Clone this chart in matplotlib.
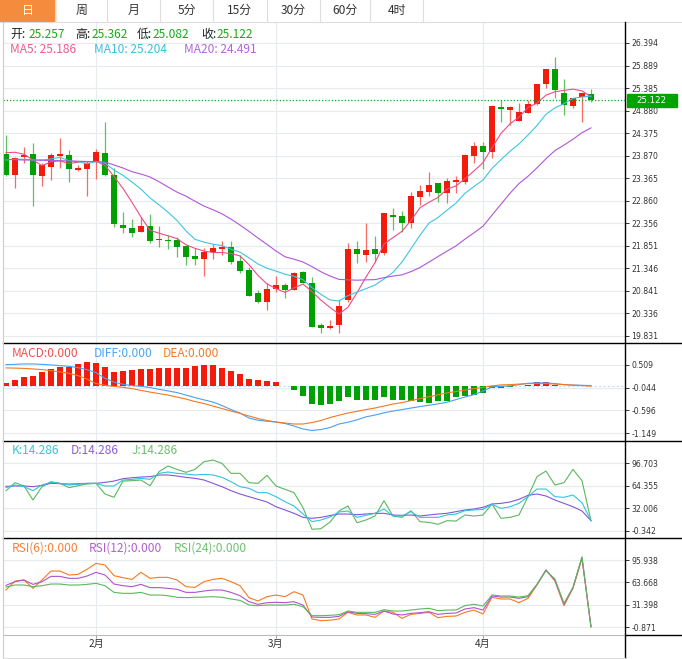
"""K-line chart with MA, MACD, KDJ and RSI panels."""

import matplotlib
matplotlib.use("Agg")
import matplotlib.pyplot as plt
import numpy as np
import pandas as pd
from matplotlib.lines import Line2D
from matplotlib.patches import Rectangle

plt.rcParams["font.family"] = ["Noto Sans CJK SC", "DejaVu Sans"]

W, H = 682, 659

# ---- values (one per trading day) ----
opens = [23.907, 23.437, 23.833, 23.907, 23.421, 23.623, 23.869, 23.885, 23.542, 23.571,
         23.728, 23.937, 23.430, 22.317, 22.250, 22.167, 22.301, 21.988, 21.988, 21.981,
         21.853, 21.623, 21.562, 21.712, 21.786, 21.817, 21.511, 21.309, 20.787, 20.599,
         20.883, 20.966, 20.861, 21.257, 21.018, 20.070, 20.017, 20.077, 20.637, 21.779,
         21.645, 21.779, 21.697, 22.541, 22.519, 22.355, 22.951, 23.063, 23.251, 23.041,
         23.287, 23.287, 23.869, 24.087, 23.945, 24.967, 24.893, 24.653, 24.833, 25.027,
         25.469, 25.811, 25.267, 24.989, 25.191, 25.257]
highs = [24.333, 23.830, 24.057, 24.147, 23.713, 23.923, 24.273, 23.997, 23.654, 23.751,
         24.019, 24.624, 23.587, 22.601, 22.451, 22.503, 22.563, 22.295, 22.093, 22.055,
         21.869, 21.795, 21.809, 21.885, 21.965, 21.965, 21.645, 21.369, 20.861, 21.011,
         21.175, 21.011, 21.271, 21.287, 21.145, 20.129, 20.189, 20.637, 21.907, 21.965,
         22.369, 22.071, 22.593, 22.698, 22.631, 23.063, 23.213, 23.497, 23.265, 23.363,
         23.421, 23.901, 24.169, 24.169, 24.998, 25.117, 24.983, 25.057, 25.117, 25.475,
         25.811, 26.073, 25.581, 25.169, 25.281, 25.362]
lows = [23.415, 23.153, 23.699, 22.743, 23.197, 23.325, 23.587, 23.287, 23.533, 22.967,
        23.354, 23.415, 22.279, 22.145, 22.041, 22.167, 21.907, 21.831, 21.786, 21.607,
        21.421, 21.428, 21.175, 21.549, 21.638, 21.443, 21.249, 20.733, 20.563, 20.413,
        20.823, 20.675, 20.861, 21.011, 20.025, 19.905, 19.981, 19.905, 20.585, 21.473,
        21.495, 21.495, 21.645, 22.205, 22.167, 22.257, 22.765, 22.967, 22.839, 22.817,
        23.041, 23.229, 23.699, 23.565, 23.825, 24.631, 24.557, 24.653, 24.833, 25.005,
        25.379, 25.155, 24.781, 24.931, 24.631, 25.082]
closes = [23.437, 23.811, 23.885, 23.437, 23.661, 23.885, 23.907, 23.578, 23.594, 23.699,
          23.945, 23.444, 22.333, 22.257, 22.145, 22.295, 21.959, 22.010, 21.965, 21.831,
          21.607, 21.555, 21.712, 21.795, 21.831, 21.495, 21.287, 20.733, 20.592, 20.883,
          20.966, 20.861, 21.235, 21.025, 20.039, 20.003, 20.048, 20.509, 21.779, 21.661,
          21.757, 21.661, 22.593, 22.503, 22.369, 22.973, 23.079, 23.213, 23.041, 23.303,
          23.325, 23.885, 24.093, 23.959, 24.983, 24.922, 24.953, 24.855, 25.027, 25.475,
          25.811, 25.341, 25.005, 25.169, 25.281, 25.122]

# moving averages before enough visible history
ma5_head = [23.937, 23.946, 23.901, 23.773]
ma10_head = [23.773, 23.789, 23.789, 23.773, 23.773, 23.796, 23.833, 23.757, 23.735]
ma20_head = [23.789, 23.780, 23.773, 23.773, 23.768, 23.762, 23.757, 23.751, 23.745,
             23.740, 23.735, 23.728, 23.661, 23.594, 23.511, 23.459, 23.392, 23.287, 23.168]
ma_header = [25.186, 25.204, 24.491]

macd_bar = [0.073, 0.152, 0.208, 0.232, 0.329, 0.402, 0.450, 0.467, 0.540, 0.571,
            0.564, 0.450, 0.346, 0.370, 0.378, 0.411, 0.402, 0.426, 0.443, 0.443,
            0.443, 0.474, 0.499, 0.499, 0.443, 0.353, 0.290, 0.177, 0.145, 0.128,
            0.087, -0.005, -0.090, -0.252, -0.436, -0.470, -0.436, -0.373, -0.266, -0.332,
            -0.348, -0.348, -0.266, -0.348, -0.332, -0.373, -0.397, -0.411, -0.356, -0.356,
            -0.276, -0.252, -0.227, -0.169, -0.048, -0.058, -0.034, -0.012, 0.024, 0.097,
            0.097, 0.019, 0.008, -0.005, 0.005, 0.0]
diff = [0.515, 0.523, 0.532, 0.532, 0.523, 0.508, 0.491, 0.474, 0.443, 0.394,
        0.322, 0.184, 0.092, 0.039, 0.007, -0.010, -0.041, -0.082, -0.121, -0.162,
        -0.223, -0.283, -0.339, -0.392, -0.477, -0.574, -0.658, -0.779, -0.832, -0.857,
        -0.876, -0.912, -0.973, -1.045, -1.081, -1.057, -1.009, -0.924, -0.881, -0.823,
        -0.750, -0.707, -0.653, -0.610, -0.574, -0.537, -0.501, -0.469, -0.436, -0.397,
        -0.332, -0.271, -0.211, -0.126, -0.024, -0.010, 0.000, 0.031, 0.063, 0.073,
        0.073, 0.056, 0.031, 0.019, 0.015, 0.007]
dea = [0.436, 0.431, 0.424, 0.411, 0.394, 0.370, 0.339, 0.305, 0.249, 0.165,
       0.056, 0.015, -0.012, -0.036, -0.065, -0.109, -0.150, -0.186, -0.223, -0.271,
       -0.319, -0.380, -0.428, -0.489, -0.549, -0.610, -0.666, -0.731, -0.791, -0.840,
       -0.876, -0.900, -0.924, -0.924, -0.888, -0.840, -0.767, -0.711, -0.658, -0.617,
       -0.574, -0.537, -0.489, -0.440, -0.404, -0.356, -0.307, -0.264, -0.218, -0.169,
       -0.138, -0.102, -0.065, -0.036, 0.000, 0.024, 0.031, 0.044, 0.056, 0.056,
       0.056, 0.044, 0.031, 0.019, 0.007, -0.005]

k_line = [61.7, 65.5, 63.1, 57.4, 65.5, 69.3, 67.9, 65.5, 66.5, 67.9,
          67.9, 64.1, 64.1, 72.7, 73.6, 75.1, 73.6, 82.3, 84.2, 82.3,
          81.3, 79.9, 80.8, 79.9, 76.5, 70.3, 63.1, 60.7, 54.5, 54.5,
          48.7, 41.5, 35.3, 23.8, 12.8, 15.2, 19.5, 26.7, 28.1, 19.0,
          21.9, 24.8, 31.0, 20.9, 20.9, 27.2, 19.0, 19.0, 19.0, 22.4,
          23.8, 28.6, 29.6, 30.5, 37.7, 31.9, 34.3, 39.1, 48.7, 59.7,
          59.7, 48.7, 47.8, 51.1, 40.1, 14.286]
d_line = [63.6, 64.1, 64.1, 63.1, 65.0, 67.9, 67.4, 66.9, 67.4, 67.9,
          67.9, 69.3, 71.2, 74.6, 76.0, 77.0, 77.5, 79.9, 79.9, 78.4,
          76.5, 75.1, 72.7, 67.9, 63.1, 57.4, 52.6, 48.7, 44.9, 41.1,
          34.3, 29.6, 24.8, 19.0, 17.6, 19.0, 21.6, 23.8, 23.8, 22.8,
          23.8, 24.8, 24.8, 22.4, 21.9, 22.4, 20.9, 22.4, 23.8, 24.8,
          27.2, 29.6, 31.0, 33.4, 38.2, 39.1, 41.1, 44.9, 50.6, 52.6,
          49.7, 43.9, 39.1, 34.3, 28.1, 14.286]
j_line = [57.3, 68.9, 64.1, 43.9, 63.1, 70.3, 67.9, 61.7, 64.5, 66.9,
          67.9, 52.6, 47.8, 71.2, 71.7, 72.7, 64.5, 84.7, 92.8, 88.0,
          83.7, 88.0, 99.0, 101.4, 96.6, 82.3, 82.3, 68.9, 67.9, 79.4,
          64.1, 59.3, 54.5, 32.9, 1.8, 2.7, 12.3, 28.1, 35.3, 11.3,
          15.2, 20.9, 43.0, 20.9, 19.0, 28.6, 12.8, 11.8, 9.0, 14.2,
          13.7, 22.4, 20.9, 22.4, 38.2, 17.6, 19.0, 22.4, 48.7, 77.5,
          85.6, 65.5, 68.9, 88.0, 71.7, 14.286]

rsi6 = [52.8, 65.7, 67.2, 55.2, 67.2, 80.1, 80.1, 74.4, 75.3, 82.5,
        91.1, 88.7, 73.4, 70.5, 68.1, 78.2, 69.6, 71.0, 71.0, 67.2,
        57.6, 56.6, 64.8, 68.1, 69.6, 64.8, 59.0, 41.8, 37.0, 43.2,
        45.6, 43.2, 50.4, 45.6, 11.1, 8.7, 9.4, 11.1, 20.7, 16.9,
        16.9, 13.5, 22.6, 20.7, 12.1, 17.8, 19.2, 20.7, 13.0, 14.9,
        15.4, 20.7, 24.0, 18.3, 42.3, 39.9, 39.9, 34.6, 40.8, 60.0,
        81.6, 65.7, 30.3, 55.2, 98.3, 0.0]
rsi12 = [59.5, 64.8, 67.2, 60.9, 64.8, 72.4, 72.4, 69.6, 69.6, 72.9,
         78.2, 74.4, 61.4, 59.0, 57.6, 60.9, 56.2, 56.2, 55.2, 53.8,
         49.4, 49.4, 51.4, 52.8, 52.8, 49.4, 44.6, 36.0, 32.2, 34.6,
         35.1, 34.6, 36.0, 31.2, 14.0, 13.5, 13.5, 14.9, 21.6, 19.2,
         18.8, 17.8, 22.6, 18.3, 16.9, 19.2, 20.2, 21.6, 17.8, 19.2,
         19.7, 25.5, 27.4, 24.0, 44.2, 42.7, 42.7, 40.8, 43.2, 60.9,
         81.6, 66.7, 32.2, 56.2, 99.3, 0.0]
rsi24 = [57.1, 60.0, 60.0, 57.6, 59.0, 61.4, 61.4, 60.0, 60.0, 60.9,
         62.4, 59.0, 49.4, 48.0, 48.0, 49.4, 45.6, 45.6, 44.6, 42.3,
         41.8, 42.3, 42.7, 43.2, 42.3, 39.9, 37.9, 31.2, 30.3, 31.2,
         31.2, 31.2, 32.2, 28.9, 15.9, 15.9, 16.4, 17.3, 22.6, 20.7,
         20.7, 20.7, 24.5, 22.6, 22.6, 24.0, 25.5, 26.5, 23.1, 24.0,
         24.0, 30.3, 32.2, 29.8, 45.6, 44.2, 44.2, 42.7, 44.6, 60.9,
         80.6, 68.6, 33.6, 56.6, 100.7, 0.0]

month_pos = [10, 30, 53]
month_labels = ["2月", "3月", "4月"]

price_ticks = ["26.394", "25.889", "25.385", "24.880", "24.375", "23.870", "23.365",
               "22.860", "22.356", "21.851", "21.346", "20.841", "20.336", "19.831"]
macd_ticks = ["0.509", "-0.044", "-0.596", "-1.149"]
kdj_ticks = ["96.703", "64.355", "32.006", "-0.342"]
rsi_ticks = ["95.938", "63.668", "31.398", "-0.871"]

tab_labels = ["日", "周", "月", "5分", "15分", "30分", "60分", "4时"]

# ---- colours ----
RED = "#f21b0c"
GREEN = "#00a000"
RED_WICK = "#f26d63"
GREEN_WICK = "#5fc25f"
GRID = "#e6ebf0"
TXT = "#333333"

fig = plt.figure(figsize=(W / 100, H / 100), dpi=100)
fig.patch.set_facecolor("white")


def px_axes(x0, y0, x1, y1):
    """Axes placed by pixel box (top-left origin)."""
    return fig.add_axes([x0 / W, 1 - y1 / H, (x1 - x0) / W, (y1 - y0) / H])


def fig_line(x0, y0, x1, y1, color, lw=0.8, **kw):
    fig.add_artist(Line2D([x0 / W, x1 / W], [1 - y0 / H, 1 - y1 / H],
                          transform=fig.transFigure, color=color, lw=lw, **kw))


def fig_text(x, y, s, color, size=8.6, **kw):
    fig.text(x / W, 1 - y / H, s, color=color, fontsize=size, va="center", **kw)


n = len(closes)
idx = np.arange(n)
XL = (-1 / 3, 68.78)

ax_p = px_axes(3, 22, 625, 343)
ax_m = px_axes(3, 343, 625, 441)
ax_k = px_axes(3, 441, 625, 538)
ax_r = px_axes(3, 538, 625, 635)

panels = [
    (ax_p, price_ticks, (19.674, 26.864)),
    (ax_m, macd_ticks, (-1.336, 1.040)),
    (ax_k, kdj_ticks, (-10.7, 128.8)),
    (ax_r, rsi_ticks, (-11.9, 127.6)),
]
for ax, ticks, ylim in panels:
    ax.set_xlim(*XL)
    ax.set_ylim(*ylim)
    ax.set_facecolor("none")
    for sp in ax.spines.values():
        sp.set_visible(False)
    ax.set_yticks([float(t) for t in ticks])
    ax.set_yticklabels(ticks, family="DejaVu Sans")
    ax.yaxis.tick_right()
    ax.tick_params(axis="y", length=3, width=0.7, color=TXT, labelsize=5.6,
                   pad=1.5, labelcolor=TXT)
    ax.set_xticks(month_pos)
    ax.tick_params(axis="x", length=0, labelbottom=False)
    ax.grid(True, color=GRID, lw=0.8)
    ax.set_axisbelow(True)

ax_r.set_xticklabels(month_labels)
ax_r.tick_params(axis="x", length=2, width=0.7, color="#999999", labelbottom=True,
                 labelsize=7.2, labelcolor=TXT, pad=1)

# ---- candles ----
for i in idx:
    o, h, l, c = opens[i], highs[i], lows[i], closes[i]
    up = c >= o
    ax_p.vlines(i, l, h, color=RED_WICK if up else GREEN_WICK, lw=0.9, zorder=2)
    ax_p.bar(i, max(abs(c - o), 0.02), bottom=min(o, c), width=0.72,
             color=RED if up else GREEN, lw=0, zorder=3)

close_s = pd.Series(closes)
for period, head, color in [(5, ma5_head, "#ee4c85"), (10, ma10_head, "#3cc6e2"),
                            (20, ma20_head, "#b056d6")]:
    ma = close_s.rolling(period).mean().to_numpy()
    ma[:period - 1] = head
    ax_p.plot(idx, ma, color=color, lw=0.8, zorder=4)

last = closes[-1]
ax_p.axhline(last, color="#13a013", lw=0.9, ls=(0, (1, 1.6)), zorder=5)

# ---- MACD ----
bar_colors = [RED if v >= 0 else GREEN for v in macd_bar]
ax_m.bar(idx, macd_bar, width=0.74, color=bar_colors, lw=0, zorder=2)
ax_m.axhline(0, color="#bfe0f2", lw=0.8, ls=(0, (2, 2)), zorder=1)
ax_m.plot(idx, diff, color="#4b9ff2", lw=0.8, zorder=3)
ax_m.plot(idx, dea, color="#f5781f", lw=0.8, zorder=3)

# ---- KDJ ----
ax_k.plot(idx, j_line, color="#5cb85c", lw=0.8)
ax_k.plot(idx, d_line, color="#8655d8", lw=0.8)
ax_k.plot(idx, k_line, color="#33c3de", lw=0.8)

# ---- RSI ----
ax_r.plot(idx, rsi6, color="#f77a1e", lw=0.8)
ax_r.plot(idx, rsi12, color="#b053cc", lw=0.8)
ax_r.plot(idx, rsi24, color="#5cb85c", lw=0.8)

# ---- frame lines ----
fig_line(0, 21.5, W, 21.5, "#dddddd", lw=0.8)
for y in (343, 441, 538):
    fig_line(3, y, W, y, "black", lw=1.0)
fig_line(625, 22, 625, H, "black", lw=1.0)
fig_line(3, 635, 625, 635, "#bbbbbb", lw=0.8)
fig_line(625, 635, W, 635, "black", lw=1.0)
fig_line(3, 22, 3, 658, "#cccccc", lw=0.8)
fig_line(3, 658, 625, 658, "#dddddd", lw=0.8)

# last price tag
fig.patches.append(Rectangle((627 / W, 1 - 107 / H), 50 / W, 13 / H,
                             transform=fig.transFigure, color="#00a400", zorder=5))
fig_text(651.5, 100.5, f"{last:.3f}", "white", size=6.2, ha="center",
         family="DejaVu Sans", zorder=6)

# ---- tabs ----
tab_edges = [0, 55, 107, 160, 213, 267, 320, 370, 423]
for k, lab in enumerate(tab_labels):
    x0, x1 = tab_edges[k], tab_edges[k + 1]
    if k == 0:
        fig.patches.append(Rectangle((x0 / W, 1 - 21 / H), (x1 - x0) / W, 21 / H,
                                     transform=fig.transFigure, color="#f58b3d"))
    fig_text((x0 + x1) / 2, 10.5, lab, "white" if k == 0 else TXT, size=8.6,
             ha="center")
    fig_line(x1, 0, x1, 21, "#dddddd", lw=0.8)

# ---- header texts ----
VAL_GREEN = "#1ea51e"
ohlc_last = [opens[-1], highs[-1], lows[-1], closes[-1]]
for name, x_name, x_val, v in zip(["开:", "高:", "低:", "收:"], [10, 75, 137, 201],
                                  [29, 92, 153, 217], ohlc_last):
    fig_text(x_name, 34.3, name, "#222222")
    fig_text(x_val, 34.3, f"{v:.3f}", VAL_GREEN)

for name, x, v, color in zip(["MA5", "MA10", "MA20"], [10, 94, 184], ma_header,
                             ["#ee5b8c", "#3bbfdc", "#b463d6"]):
    fig_text(x, 49.3, f"{name}: {v:.3f}", color)

for s, x, color in [(f"MACD:{macd_bar[-1]:.3f}", 12, "#f2504f"),
                    (f"DIFF:{0:.3f}", 94, "#4aa6f0"),
                    (f"DEA:{0:.3f}", 163, "#f27a2a")]:
    fig_text(x, 353.3, s, color)

for s, x, color in [(f"K:{k_line[-1]:.3f}", 12, "#3ec1d8"),
                    (f"D:{d_line[-1]:.3f}", 71, "#8a5fd6"),
                    (f"J:{j_line[-1]:.3f}", 132, "#6dbf6d")]:
    fig_text(x, 451, s, color)

for s, x, color in [(f"RSI(6):{rsi6[-1]:.3f}", 12, "#f5813a"),
                    (f"RSI(12):{rsi12[-1]:.3f}", 89, "#b35fd0"),
                    (f"RSI(24):{rsi24[-1]:.3f}", 174, "#6fc06f")]:
    fig_text(x, 548.3, s, color)

fig.savefig("out.png", dpi=100)
